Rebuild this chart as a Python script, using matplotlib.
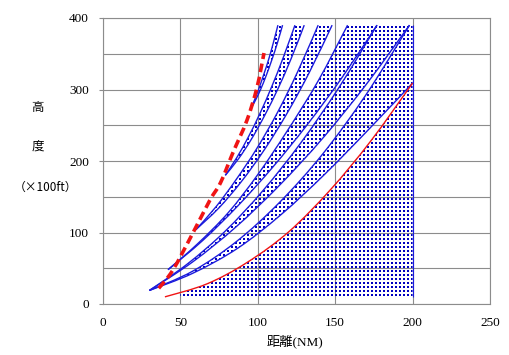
import numpy as np
import matplotlib
matplotlib.use('Agg')
import matplotlib.pyplot as plt
from matplotlib.path import Path
from matplotlib.patches import PathPatch

# distance (NM) vs altitude (x100 ft)
red_x = [40, 67, 93, 120, 147, 173, 200]
red_y = [10, 28, 58, 101, 160, 228, 309]

dash_x = [36, 45, 58, 69, 76, 84, 93, 99.5, 104]
dash_y = [22, 47, 99, 145, 170, 212, 257, 303, 351]

# blue lanes, each one a lower and an upper curve
l1_lo_x = [30, 58, 87, 115, 143, 172, 200]
l1_lo_y = [19, 43, 78, 125, 181, 245, 309]
l1_hi_x = [30, 58, 86, 114, 142, 170, 198]
l1_hi_y = [19, 46, 87, 142, 210, 293, 390]

l2_lo_x = [30, 58, 86, 114, 142, 170, 198]
l2_lo_y = [19, 59, 108, 166, 232, 307, 390]
l2_hi_x = [30, 54.5, 79, 103.5, 128, 152.5, 177]
l2_hi_y = [19, 56, 102, 159, 226, 303, 390]

l3_lo_x = [42, 64.5, 87, 109.5, 132, 154.5, 177]
l3_lo_y = [48, 89, 137, 191, 251, 317, 390]
l3_hi_x = [42, 61, 81, 100, 119, 139, 158]
l3_hi_y = [48, 84, 128, 181, 242, 312, 390]

l4_lo_x = [60, 74.7, 89.3, 104, 118.7, 133.3, 148]
l4_lo_y = [104, 134, 171, 215, 266, 324, 390]
l4_hi_x = [60, 73, 86, 99.5, 113, 126, 139]
l4_hi_y = [104, 136, 174, 218, 269, 326, 390]

l5_lo_x = [79, 87.5, 96, 104.5, 113, 121.5, 130]
l5_lo_y = [180, 203, 231, 264, 301, 343, 390]
l5_hi_x = [79, 86.5, 94, 101.5, 109, 116.5, 124]
l5_hi_y = [180, 205, 234, 267, 304, 345, 390]

l6_lo_x = [95, 98.5, 102, 105.5, 109, 112.5, 116]
l6_lo_y = [271, 285, 301, 320, 341, 364, 390]
l6_hi_x = [95, 98, 101, 104, 107, 110, 113]
l6_hi_y = [271, 286, 303, 322, 342, 365, 390]

lanes = [
    (l1_lo_x, l1_lo_y, l1_hi_x, l1_hi_y),
    (l2_lo_x, l2_lo_y, l2_hi_x, l2_hi_y),
    (l3_lo_x, l3_lo_y, l3_hi_x, l3_hi_y),
    (l4_lo_x, l4_lo_y, l4_hi_x, l4_hi_y),
    (l5_lo_x, l5_lo_y, l5_hi_x, l5_hi_y),
    (l6_lo_x, l6_lo_y, l6_hi_x, l6_hi_y),
]

# dotted box
box_x = [50, 200]
box_y = [10, 390]

x_ticks = [0, 50, 100, 150, 200, 250]
y_ticks = [0, 100, 200, 300, 400]

blue = '#1c1cdc'
red = '#f01414'


def smooth(xs, ys):
    # smoothed line through the points (bezier pieces, like a smoothed excel line)
    p = np.column_stack([xs, ys]).astype(float)
    ext = np.vstack([p[0], p, p[-1]])
    verts, codes = [p[0]], [Path.MOVETO]
    for i in range(len(p) - 1):
        p0, p1, p2, p3 = ext[i], ext[i + 1], ext[i + 2], ext[i + 3]
        verts += [p1 + (p2 - p0) / 6, p2 - (p3 - p1) / 6, p2]
        codes += [Path.CURVE4] * 3
    return verts, codes


def draw(ax, xs, ys, **kw):
    v, c = smooth(xs, ys)
    ax.add_patch(PathPatch(Path(v, c), fill=False, **kw))


fig = plt.figure(figsize=(5.1, 3.55), dpi=100)
ax = fig.add_axes([103 / 510, 51 / 355, 387 / 510, 286 / 355])

# dot pattern, clipped to the lanes and the area under the red curve
H, W = 286, 387
on = (np.arange(H)[:, None] % 4 < 2) & (np.arange(W)[None, :] % 4 < 2)
dots = np.zeros((H, W, 4))
dots[on] = (0, 0, 0.75, 1)

verts, codes = [], []
r0 = np.interp(box_x[0], red_x, red_y)
keep = [i for i, x in enumerate(red_x) if x > box_x[0]]
v, c = smooth([box_x[0]] + [red_x[i] for i in keep], [r0] + [red_y[i] for i in keep])
verts += [(box_x[0], box_y[0])] + v + [(box_x[1], box_y[0]), (0, 0)]
codes += [Path.MOVETO, Path.LINETO] + c[1:] + [Path.LINETO, Path.CLOSEPOLY]

for i, (lx, ly, hx, hy) in enumerate(lanes):
    v1, c1 = smooth(lx, ly)
    v2, c2 = smooth(hx[::-1], hy[::-1])
    verts += v1
    codes += c1
    if i == 0:
        verts.append((box_x[1], box_y[1]))
        codes.append(Path.LINETO)
    verts += v2 + [(0, 0)]
    codes += [Path.LINETO] + c2[1:] + [Path.CLOSEPOLY]

clip = PathPatch(Path(verts, codes), transform=ax.transData, fc='none', ec='none')
im = ax.imshow(dots, extent=(0, 250, 0, 400), aspect='auto',
               interpolation='nearest', zorder=1)
im.set_clip_path(clip)

for lx, ly, hx, hy in lanes:
    draw(ax, lx, ly, ec=blue, lw=1.0, zorder=3)
    draw(ax, hx, hy, ec=blue, lw=1.0, zorder=3)
ax.vlines(box_x[1], box_y[0], box_y[1], color=blue, lw=0.8, zorder=3)

draw(ax, red_x, red_y, ec=red, lw=1.0, zorder=4)
draw(ax, dash_x, dash_y, ec=red, lw=2.6, linestyle=(0, (2.4, 1.3)), zorder=4)

ax.set_xlim(0, 250)
ax.set_ylim(0, 400)
ax.set_xticks(x_ticks)
ax.set_yticks(y_ticks)
ax.set_yticks(range(0, 401, 50), minor=True)
ax.grid(True, which='both', color='#8c8c8c', lw=0.8)
ax.set_axisbelow(True)
for s in ax.spines.values():
    s.set_color('#8c8c8c')
    s.set_linewidth(0.8)

ax.tick_params(axis='x', length=0, pad=9)
ax.tick_params(axis='y', which='major', length=3, pad=7, color='#8c8c8c')
ax.tick_params(axis='y', which='minor', length=0)
for lab in ax.get_xticklabels() + ax.get_yticklabels():
    lab.set_family('Liberation Serif')
    lab.set_fontsize(9.5)

cjk = ['Liberation Serif', 'Noto Sans CJK JP', 'DejaVu Sans']
fig.text(37.5 / 510, 1 - 108 / 355, '高', family=cjk, fontsize=9,
         ha='center', va='center')
fig.text(37.5 / 510, 1 - 147 / 355, '度', family=cjk, fontsize=9,
         ha='center', va='center')
fig.text(46 / 510, 1 - 187 / 355, '（×100ft）', family=['Noto Sans CJK JP', 'DejaVu Sans'],
         fontsize=8.5, ha='center', va='center')
fig.text(295 / 510, 1 - 341 / 355, '距離(NM)', family=cjk, fontsize=9.5,
         ha='center', va='center')

fig.savefig('out.png', dpi=100)
